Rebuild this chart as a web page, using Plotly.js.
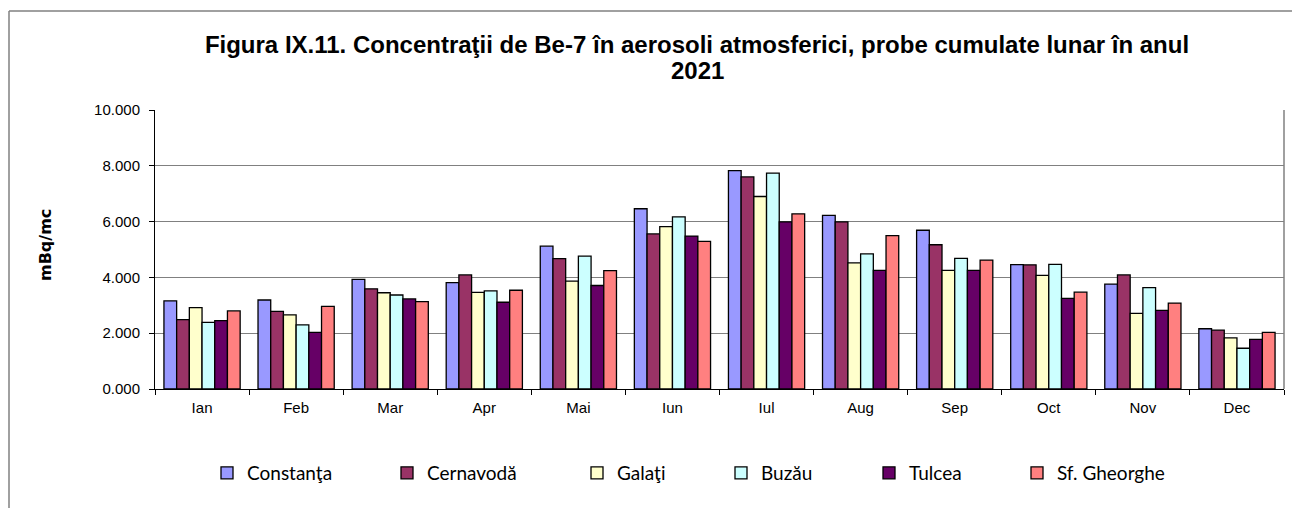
<!DOCTYPE html>
<html>
<head>
<meta charset="utf-8">
<script src="https://cdn.plot.ly/plotly-3.0.1.min.js"></script>
<style>html,body{margin:0;padding:0;background:#fff;}#chart{width:1292px;height:508px;}</style>
</head>
<body>
<div id="chart"></div>
<script>
const months = ["Ian","Feb","Mar","Apr","Mai","Iun","Iul","Aug","Sep","Oct","Nov","Dec"];
const constanta = [3.16,3.19,3.93,3.81,5.12,6.46,7.83,6.22,5.69,4.46,3.76,2.16];
const cernavoda = [2.49,2.78,3.59,4.09,4.67,5.56,7.60,5.99,5.17,4.45,4.09,2.11];
const galati    = [2.92,2.66,3.45,3.46,3.87,5.82,6.90,4.52,4.25,4.07,2.71,1.83];
const buzau     = [2.39,2.30,3.37,3.52,4.76,6.17,7.74,4.84,4.68,4.47,3.63,1.46];
const tulcea    = [2.45,2.03,3.23,3.11,3.71,5.48,5.99,4.25,4.25,3.25,2.82,1.78];
const sfgheorghe= [2.80,2.96,3.13,3.54,4.24,5.29,6.28,5.50,4.62,3.47,3.08,2.03];
const seriesNames = ["Constanţa","Cernavodă","Galaţi","Buzău","Tulcea","Sf. Gheorghe"];
const seriesValues = [constanta, cernavoda, galati, buzau, tulcea, sfgheorghe];
const colors = ["#9999FF","#993366","#FFFFCC","#CCFFFF","#660066","#FF8080"];
const legendMarkerX = [229,409,599,743,891,1039];
const titleLine1 = "Figura IX.11. Concentraţii de Be-7 în aerosoli atmosferici, probe cumulate lunar în anul";
const titleLine2 = "2021";

const W = 1292, H = 508;
const L = 155, R = 8, T = 110, B = 119;
const pw = W - L - R, ph = H - T - B;
const px = v => (v - L) / pw;
const py = v => (H - B - v) / ph;

const traces = seriesValues.map((vals, i) => ({
  type: "bar",
  name: seriesNames[i],
  x: months,
  y: vals,
  marker: {color: colors[i], line: {color: "#000", width: 1.3}},
  legend: i === 0 ? "legend" : "legend" + (i + 1),
  hoverinfo: "x+y+name"
}));

const titleFont = {family: "Liberation Sans, Arial, sans-serif", size: 24, color: "#000", weight: "bold"};
const legendFont = {family: "Lato, 'Open Sans', sans-serif", size: 19, color: "#000"};
const layout = {
  width: W, height: H,
  margin: {l: L, r: R, t: T, b: B, pad: 0},
  paper_bgcolor: "#fff", plot_bgcolor: "#fff",
  barmode: "group", bargap: 0.19, bargroupgap: 0,
  title: {
    text: titleLine1,
    font: titleFont,
    x: 697 / W, xanchor: "center", xref: "container",
    y: 1 - 45 / H, yanchor: "middle", yref: "container"
  },
  xaxis: {
    type: "category",
    showline: true, linecolor: "#000", linewidth: 1,
    ticks: "outside", tickson: "boundaries", ticklen: 5, tickcolor: "#000",
    ticklabelstandoff: 5,
    tickfont: {family: "Liberation Sans, Arial, sans-serif", size: 15, color: "#000"},
    showgrid: false, zeroline: false, fixedrange: true
  },
  yaxis: {
    range: [0, 10], dtick: 2, tickformat: ".3f",
    showline: true, linecolor: "#000", linewidth: 1,
    ticks: "outside", ticklen: 5, tickcolor: "#000", ticklabelstandoff: 6,
    tickfont: {family: "Liberation Sans, Arial, sans-serif", size: 15, color: "#000"},
    showgrid: true, gridcolor: "#808080", gridwidth: 1,
    zeroline: false, fixedrange: true
  },
  annotations: [{
    text: titleLine2, showarrow: false,
    xref: "paper", yref: "paper", x: px(697), y: py(70),
    xanchor: "center", yanchor: "middle",
    font: titleFont
  }, {
    text: "<b>mBq/mc</b>", textangle: -90, showarrow: false,
    xref: "paper", yref: "paper", x: px(45), y: py(245),
    xanchor: "center", yanchor: "middle",
    font: {family: "DejaVu Sans, Verdana, sans-serif", size: 16, color: "#000"}
  }],
  shapes: [
    {type: "line", xref: "paper", yref: "paper", x0: px(9), x1: px(9), y0: py(11), y1: py(520), line: {color: "#808080", width: 1.5}},
    {type: "line", xref: "paper", yref: "paper", x0: px(9), x1: px(1300), y0: py(11), y1: py(11), line: {color: "#808080", width: 1.5}},
    {type: "line", xref: "paper", yref: "paper", x0: 1, x1: 1, y0: 0, y1: 1, line: {color: "#808080", width: 1.5}}
  ],
  showlegend: true
};
legendMarkerX.forEach((mx, i) => {
  const key = i === 0 ? "legend" : "legend" + (i + 1);
  layout[key] = {
    xref: "container", yref: "container",
    x: (mx - 22) / W, xanchor: "left",
    y: 1 - 473 / H, yanchor: "middle",
    orientation: "h", font: legendFont,
    bgcolor: "rgba(0,0,0,0)", borderwidth: 0
  };
});

Plotly.newPlot("chart", traces, layout, {displayModeBar: false, staticPlot: true});
</script>
</body>
</html>
